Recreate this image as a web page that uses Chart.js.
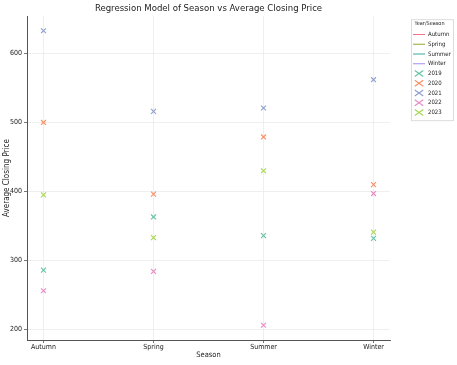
<!DOCTYPE html>
<html>
<head>
<meta charset="utf-8">
<script src="https://cdn.jsdelivr.net/npm/chart.js@4.4.0/dist/chart.umd.min.js"></script>
<style>
html,body{margin:0;padding:0;background:#fff;}
#wrap{width:457px;height:365px;}
</style>
</head>
<body>
<div id="wrap"><canvas id="c" width="457" height="365"></canvas></div>
<script>
const categories = ['Autumn', 'Spring', 'Summer', 'Winter'];
const years = ['2019', '2020', '2021', '2022', '2023'];
const yTickValues = [200, 300, 400, 500, 600];
// values per year, in order of categories
const v2019 = [286, 363, 336, 332];
const v2020 = [500, 396, 479, 410];
const v2021 = [633, 516, 521, 562];
const v2022 = [256, 284, 206, 397];
const v2023 = [395, 333, 430, 341];

const yearValues = [v2019, v2020, v2021, v2022, v2023];
const yearColors = ['#66c2a5', '#fc8d62', '#8da0cb', '#e78ac3', '#a6d854'];
const seasonColors = ['#f77189', '#97a431', '#36ada4', '#a48cf4'];

const FONT = '"DejaVu Sans Condensed", "DejaVu Sans", sans-serif';

const datasets = [];
categories.forEach((s, i) => {
  datasets.push({
    type: 'line', label: s, data: [], borderColor: seasonColors[i], backgroundColor: seasonColors[i],
    borderWidth: 1.2, pointStyle: 'line', showLine: true
  });
});
years.forEach((y, i) => {
  datasets.push({
    label: y,
    data: yearValues[i].map((v, k) => ({x: k, y: v})),
    pointStyle: 'crossRot', radius: 3.5, hoverRadius: 3.5,
    borderColor: yearColors[i], backgroundColor: yearColors[i], borderWidth: 1.1
  });
});

// target layout
const AREA = { left: 27, right: 390, top: 16, bottom: 340 };
const LEG = { itemX: 413, titleCenterX: 429.5, firstItemY: 34.5, boxLeft: 411, boxRight: 453, boxTop: 19 };
const PAD = { left: 0, right: 0, top: 0, bottom: 4 };

const legendFix = {
  id: 'legendFix',
  beforeLayout(chart) {
    const lg = chart.legend;
    if (!lg || lg._wrapped) return;
    lg._wrapped = true;
    const fit = lg.fit;
    lg.fit = function () {
      fit.call(this);
      this.width = chart.width - AREA.right - PAD.right;
    };
    const draw = lg.draw;
    lg.draw = function (a) {
      const hb = this.legendHitBoxes;
      if (!hb || !hb.length) { draw.call(this, a); return; }
      const ctx = this.ctx;
      const pad = this.options.labels.padding;
      const dy = LEG.firstItemY - (hb[0].top + hb[0].height / 2);
      const last = hb[hb.length - 1];
      const saved = { left: this.left, right: this.right, width: this.width, top: this.top, bottom: this.bottom };
      this.left = LEG.itemX - pad;
      this.width = 2 * (LEG.titleCenterX - this.left);
      this.right = chart.width;
      ctx.save();
      ctx.translate(0, dy);
      ctx.fillStyle = '#fff';
      ctx.strokeStyle = '#dcdcdc';
      ctx.lineWidth = 1;
      const bx = Math.round(LEG.boxLeft) + 0.5, by = Math.round(LEG.boxTop - dy) + 0.5;
      const bw = LEG.boxRight - LEG.boxLeft, bh = Math.round(last.top + last.height + 4 - (LEG.boxTop - dy));
      ctx.fillRect(bx, by, bw, bh);
      ctx.strokeRect(bx, by, bw, bh);
      draw.call(this, a);
      ctx.restore();
      Object.assign(this, saved);
    };
  }
};
const titleCenter = {
  id: 'titleCenter',
  afterLayout(chart) {
    const t = chart.titleBlock;
    if (t) { t.left = chart.chartArea.left; t.right = chart.chartArea.right; t.width = t.right - t.left; }
  }
};

new Chart(document.getElementById('c'), {
  type: 'scatter',
  data: { datasets },
  plugins: [legendFix, titleCenter],
  options: {
    responsive: false,
    animation: false,
    layout: { padding: PAD },
    plugins: {
      title: { display: true, text: 'Regression Model of Season vs Average Closing Price',
        font: { family: FONT, size: 9.5, weight: 'normal' }, color: '#222', padding: { top: 3, bottom: 1.6 } },
      legend: {
        position: 'right', align: 'start',
        title: { display: true, text: 'Year/Season', font: { family: FONT, size: 5.5, weight: 'normal' }, color: '#222', padding: { top: 0, bottom: 0 } },
        labels: { usePointStyle: true, pointStyleWidth: 12, boxHeight: 6, boxWidth: 6, padding: 3.75,
          font: { family: FONT, size: 6 }, color: '#222' }
      },
      tooltip: { enabled: false }
    },
    scales: {
      x: {
        type: 'linear', min: -0.15, max: 3.15,
        afterBuildTicks(scale) { scale.ticks = categories.map((c, i) => ({ value: i })); },
        afterFit(scale) { scale.height = 365 - AREA.bottom - PAD.bottom; },
        ticks: { callback: (v) => categories[v], font: { family: FONT, size: 7 }, color: '#222', padding: 0, maxRotation: 0 },
        grid: { color: '#ebebeb', tickColor: '#555', tickLength: 3, lineWidth: 0.8 },
        border: { display: true, color: '#555', width: 1 },
        title: { display: true, text: 'Season', font: { family: FONT, size: 7.5 }, color: '#222', padding: { top: 1, bottom: 1 } }
      },
      y: {
        type: 'linear', min: 184.6, max: 654.4,
        afterBuildTicks(scale) { scale.ticks = yTickValues.map(v => ({ value: v })); },
        afterFit(scale) { scale.width = AREA.left - PAD.left; },
        ticks: { font: { family: FONT, size: 7 }, color: '#222', padding: 2 },
        grid: { color: '#ebebeb', tickColor: '#555', tickLength: 3, lineWidth: 0.8 },
        border: { display: true, color: '#555', width: 1 },
        title: { display: true, text: 'Average Closing Price', font: { family: FONT, size: 8 }, color: '#222', padding: { top: 2, bottom: 0 } }
      }
    }
  }
});
</script>
</body>
</html>
